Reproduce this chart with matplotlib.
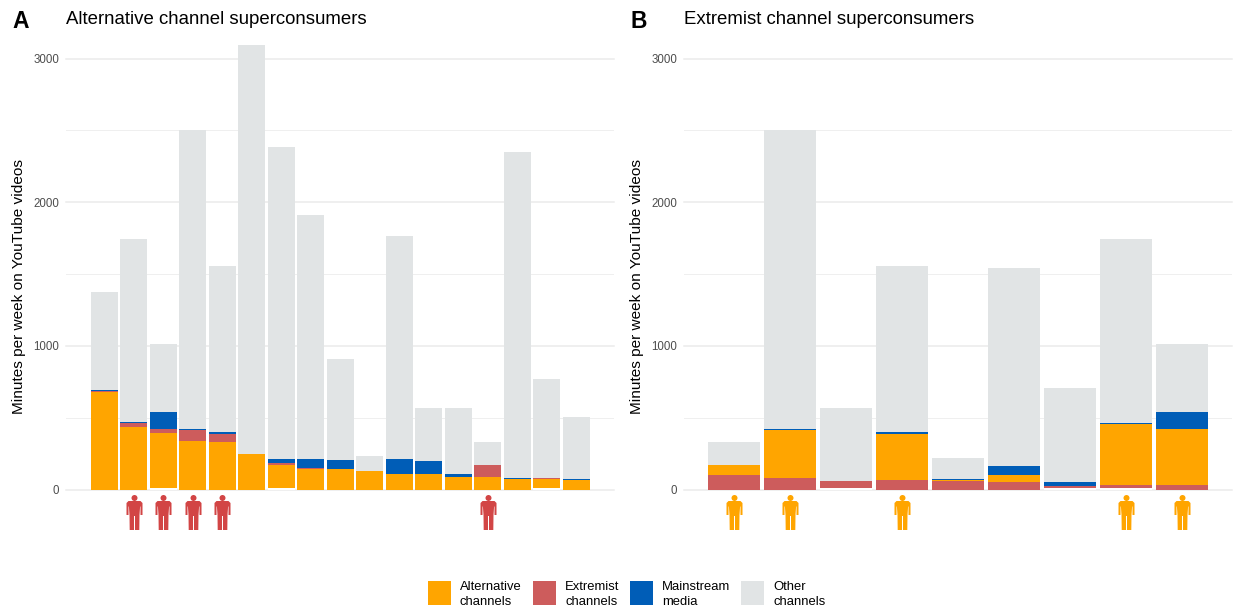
import matplotlib
matplotlib.use("Agg")
import matplotlib.pyplot as plt
from matplotlib.patches import Rectangle
from matplotlib.path import Path
from matplotlib.transforms import blended_transform_factory
import numpy as np

plt.rcParams['font.family'] = ['Liberation Sans', 'DejaVu Sans']

# Panel A
a_alt   = [676, 432, 390, 335, 328, 244, 174, 146, 146, 132, 111, 105, 90, 84, 70, 70, 63]
a_ext   = [7, 28, 28, 76, 55, 0, 7, 7, 0, 0, 0, 0, 0, 90, 0, 7, 0]
a_main  = [7, 7, 119, 7, 14, 0, 28, 56, 56, 0, 98, 90, 21, 0, 7, 0, 7]
a_total = [1376, 1742, 1014, 2505, 1557, 3094, 2387, 1913, 909, 230, 1763, 564, 564, 334, 2347, 770, 505]
a_flag  = [1, 2, 3, 4, 13]   # zero-based bars with a person icon
a_gap   = [0, 0, 7, 0, 0, 0, 7, 0, 0, 0, 0, 0, 0, 0, 0, 7, 0]

# Panel B
b_ext   = [98, 77, 56, 63, 56, 49, 21, 28, 28]
b_alt   = [76, 334, 0, 320, 7, 49, 0, 425, 390]
b_main  = [0, 7, 0, 14, 7, 69, 28, 7, 119]
b_total = [334, 2505, 564, 1557, 216, 1544, 705, 1742, 1014]
b_flag  = [0, 1, 3, 7, 8]
b_gap   = [0, 0, 7, 0, 0, 0, 7, 7, 0]

colors = {"alt": "#FFA500", "ext": "#CD5C5C", "main": "#005DB7", "other": "#E1E4E5"}
legend_labels = ["Alternative\nchannels", "Extremist\nchannels", "Mainstream\nmedia", "Other\nchannels"]
legend_keys = ["alt", "ext", "main", "other"]
legend_x = [428, 533, 630, 741]
yticks = [0, 1000, 2000, 3000]
minor_ticks = [500, 1500, 2500]
ylabel = "Minutes per week on YouTube videos"

W, H = 1235, 607
fig = plt.figure(figsize=(W / 100, H / 100), dpi=100)

def make_ax(x0, x1):
    top, bot = 45, 489.5
    return fig.add_axes([x0 / W, (H - bot) / H, (x1 - x0) / W, (bot - top) / H])

# person icon (units are pixels, centred)
head = Path.circle((0, 14.5), 3.0)
body = Path([(-6, 11.5), (6, 11.5), (8, 9.5), (8, -2.5), (6.0, -2.5), (6.0, 6), (5.6, 6), (5.0, -2.5),
             (4.8, -17.5), (0.5, -17.5), (0.5, -3.5), (-0.5, -3.5), (-0.5, -17.5), (-4.8, -17.5), (-5.0, -2.5),
             (-5.6, 6), (-6.0, 6), (-6.0, -2.5), (-8, -2.5), (-8, 9.5), (-6, 11.5)])
person = Path.make_compound_path(head, body)

def stack(ax, segments, total, gap):
    x = np.arange(len(total))
    base = np.array(gap, dtype=float)
    used = np.zeros(len(total))
    for vals, col in segments:
        v = np.array(vals, dtype=float)
        ax.bar(x, v, bottom=used, width=0.915, color=col, zorder=3, linewidth=0)
        used += v
    ax.bar(x, np.array(total) - used, bottom=used, width=0.915, color=colors["other"], zorder=2, linewidth=0)
    ax.bar(x, base, width=0.915, color="white", zorder=4, linewidth=0)

def style(ax, xlim, title, letter, letter_x, label_x, flags, icon_color):
    ax.set_xlim(*xlim)
    ax.set_ylim(0, 3094)
    for s in ax.spines.values():
        s.set_visible(False)
    ax.set_xticks([])
    ax.set_yticks(yticks)
    ax.set_yticks(minor_ticks, minor=True)
    ax.tick_params(axis="y", which="both", length=0, pad=5, labelsize=8.3, labelcolor="#4D4D4D")
    for t in yticks:
        ax.axhline(t, color="#EBEBEB", lw=1.1, zorder=1, clip_on=False)
    for t in minor_ticks:
        ax.axhline(t, color="#EFEFEF", lw=0.7, zorder=1)
    fig.text(label_x / W, 1 - 287 / H, ylabel, rotation=90, fontsize=11.1, color="black", va="center", ha="center")
    fig.text(ax.get_position().x0, 1 - 19.5 / H, title, fontsize=13.4, va="center", ha="left", color="black")
    fig.text(letter_x / W, 1 - 21 / H, letter, fontsize=16.5, fontweight="bold", va="center", ha="left")
    tr = blended_transform_factory(ax.transData, ax.transAxes)
    ax.plot(flags, [-22.5 / 444.5] * len(flags), ls="none", marker=person, ms=25.2, mfc=icon_color,
            mec="none", transform=tr, clip_on=False, zorder=5)

ax1 = make_ax(66, 614)
stack(ax1, [(a_alt, colors["alt"]), (a_ext, colors["ext"]), (a_main, colors["main"])], a_total, a_gap)
style(ax1, (-1.30, 17.28), "Alternative channel superconsumers", "A", 12, 19, a_flag, "#D24545")

ax2 = make_ax(684, 1232)
stack(ax2, [(b_ext, colors["ext"]), (b_alt, colors["alt"]), (b_main, colors["main"])], b_total, b_gap)
style(ax2, (-0.89, 8.89), "Extremist channel superconsumers", "B", 630, 637, b_flag, "#FFA500")

for key, lab, lx in zip(legend_keys, legend_labels, legend_x):
    fig.add_artist(Rectangle((lx / W, 1 - 605 / H), 23 / W, 24 / H, transform=fig.transFigure,
                             facecolor=colors[key], edgecolor="none"))
    fig.text((lx + 32) / W, 1 - 594.5 / H, lab, fontsize=9.4, va="center", ha="left", linespacing=1.25)

fig.savefig("out.png", dpi=100)
